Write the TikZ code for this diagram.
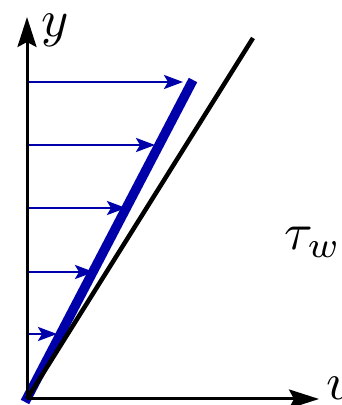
\documentclass[tikz,border=0pt]{standalone}
\usepackage{tikz}
\usetikzlibrary{arrows.meta}
\definecolor{azulperfil}{HTML}{0000AA}
\tikzset{
  eje/.style={line width=3pt, -{Stealth[length=30pt,width=19pt,inset=5pt]}},
  perfil/.style={line width=9.5pt, draw=azulperfil},
  tangente/.style={line width=4.5pt, draw=black},
  vel/.style={line width=2.5pt, draw=azulperfil, -{Stealth[length=19pt,width=14pt,inset=4pt]}},
  etiqueta/.style={scale=5.2, inner sep=0pt},
}

\begin{document}
\begin{tikzpicture}[x=1pt,y=1pt]
    \useasboundingbox (0,0) rectangle (342,405);
    % origen y extremos
    \coordinate (O) at (27,6);
    \coordinate (ytip) at (27,388);
    \coordinate (xtip) at (319,6);
    \coordinate (pbot) at (25,3);
    \coordinate (ptop) at (193,325);
    \coordinate (ttop) at (253,367);
    % perfil de velocidad
    \draw[perfil] (pbot) -- (ptop);
    \foreach \n/\py/\px in {1/323/183, 2/260/155, 3/197/126, 4/133/94, 5/71/57}{
      \coordinate (a\n) at (27,\py);
      \coordinate (b\n) at (\px,\py);
      \draw[vel] (a\n) -- (b\n);
    }
    % tangente en la pared
    \draw[tangente] (O) -- (ttop);
    % ejes
    \draw[eje] (O) -- (ytip);
    \draw[eje] (O) -- (xtip);
    \node[etiqueta] (ly) at (55,375) {$y$};
    \node[etiqueta] (lu) at (341,17) {$u$};
    \node[etiqueta] (ltau) at (313,163) {$\tau_w$};
\end{tikzpicture}
\end{document}
